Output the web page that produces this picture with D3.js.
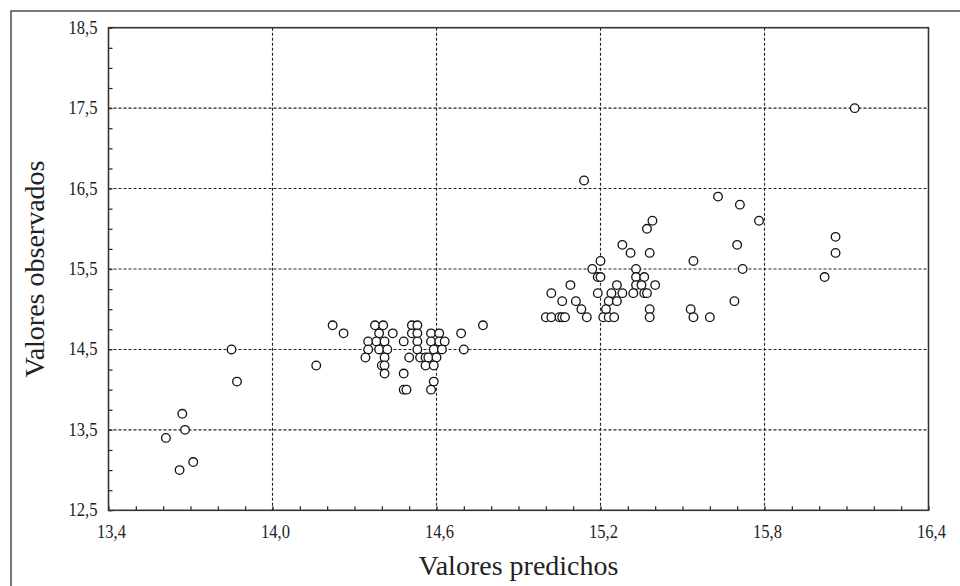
<!DOCTYPE html>
<html>
<head>
<meta charset="utf-8">
<script src="https://cdn.jsdelivr.net/npm/d3@7"></script>
<style>
  body { margin: 0; background: #fff; }
  text { font-family: "Liberation Serif", "DejaVu Serif", serif; fill: #222; }
</style>
</head>
<body>
<div id="graph"></div>
<script>
let predichos = [
  13.61, 13.67, 13.68, 13.66, 13.71, 13.85, 13.87, 14.16, 14.22, 14.26,
  14.375, 14.405, 14.39, 14.44, 14.35, 14.38, 14.41, 14.48, 14.35, 14.39,
  14.42, 14.34, 14.41, 14.40, 14.41, 14.41, 14.48, 14.48, 14.49,
  14.51, 14.53, 14.51, 14.53, 14.53, 14.53, 14.50, 14.54, 14.56, 14.56,
  14.58, 14.61, 14.58, 14.61, 14.63, 14.59, 14.62, 14.57, 14.60, 14.59, 14.59, 14.58,
  14.69, 14.70, 14.77,
  15.14, 15.63, 15.39, 15.37, 15.28, 15.31, 15.38, 15.54, 15.20, 15.17,
  15.33, 15.19, 15.20, 15.33, 15.36, 15.33, 15.35, 15.26, 15.40, 15.09,
  15.02, 15.19, 15.24, 15.28, 15.32, 15.36, 15.37, 15.06, 15.11, 15.23,
  15.26, 15.13, 15.22, 15.38, 15.53, 15.00, 15.02, 15.05, 15.06, 15.07,
  15.15, 15.21, 15.23, 15.25, 15.38, 15.54, 15.60,
  15.71, 15.78, 15.70, 15.72, 15.69, 16.06, 16.06, 16.02, 16.13
];
let observados = [
  13.4, 13.7, 13.5, 13.0, 13.1, 14.5, 14.1, 14.3, 14.8, 14.7,
  14.8, 14.8, 14.7, 14.7, 14.6, 14.6, 14.6, 14.6, 14.5, 14.5,
  14.5, 14.4, 14.4, 14.3, 14.3, 14.2, 14.2, 14.0, 14.0,
  14.8, 14.8, 14.7, 14.7, 14.6, 14.5, 14.4, 14.4, 14.4, 14.3,
  14.7, 14.7, 14.6, 14.6, 14.6, 14.5, 14.5, 14.4, 14.4, 14.3, 14.1, 14.0,
  14.7, 14.5, 14.8,
  16.6, 16.4, 16.1, 16.0, 15.8, 15.7, 15.7, 15.6, 15.6, 15.5,
  15.5, 15.4, 15.4, 15.4, 15.4, 15.3, 15.3, 15.3, 15.3, 15.3,
  15.2, 15.2, 15.2, 15.2, 15.2, 15.2, 15.2, 15.1, 15.1, 15.1,
  15.1, 15.0, 15.0, 15.0, 15.0, 14.9, 14.9, 14.9, 14.9, 14.9,
  14.9, 14.9, 14.9, 14.9, 14.9, 14.9, 14.9,
  16.3, 16.1, 15.8, 15.5, 15.1, 15.9, 15.7, 15.4, 17.5
];
let xTicks = [13.4, 14.0, 14.6, 15.2, 15.8, 16.4];
let yTicks = [12.5, 13.5, 14.5, 15.5, 16.5, 17.5, 18.5];

let data = predichos.map((p, i) => ({ x: p, y: observados[i] }));

let svgWidth = 960, svgHeight = 586;
let margin = { top: 27.7, right: 31.5, bottom: 75.7, left: 108.5 };
let width = svgWidth - margin.left - margin.right;
let height = svgHeight - margin.top - margin.bottom;

let fmt = d => d.toFixed(1).replace(".", ",");

let svg = d3.select("#graph").append("svg")
  .attr("width", svgWidth)
  .attr("height", svgHeight);

// outer frame (only top and left edges visible)
svg.append("rect")
  .attr("x", 11).attr("y", 11)
  .attr("width", 1000).attr("height", 1000)
  .attr("fill", "none").attr("stroke", "#333").attr("stroke-width", 1.3);

let chartGroup = svg.append("g")
  .attr("transform", `translate(${margin.left},${margin.top})`);

let xScale = d3.scaleLinear().domain([13.4, 16.4]).range([0, width]);
let yScale = d3.scaleLinear().domain([12.5, 18.5]).range([height, 0]);

// dotted grid
chartGroup.append("g").selectAll("line")
  .data(xTicks.slice(1, -1))
  .enter().append("line")
  .attr("x1", d => xScale(d)).attr("x2", d => xScale(d))
  .attr("y1", 0).attr("y2", height)
  .attr("stroke", "#222").attr("stroke-width", 1.1)
  .attr("stroke-dasharray", "3,2");
chartGroup.append("g").selectAll("line")
  .data(yTicks.slice(1, -1))
  .enter().append("line")
  .attr("x1", 0).attr("x2", width)
  .attr("y1", d => yScale(d)).attr("y2", d => yScale(d))
  .attr("stroke", "#222").attr("stroke-width", 1.1)
  .attr("stroke-dasharray", "3,2");

// inward minor ticks
let xAxis = d3.axisTop(xScale)
  .tickValues(d3.range(134, 165).map(v => v / 10))
  .tickSize(4).tickFormat("");
chartGroup.append("g")
  .attr("transform", `translate(0,${height})`)
  .call(xAxis)
  .call(g => g.select(".domain").remove())
  .selectAll("line").attr("stroke", "#222").attr("stroke-width", 1.2);

let yAxis = d3.axisRight(yScale)
  .tickValues(d3.range(50, 75).map(v => v / 4))
  .tickSize(4).tickFormat("");
chartGroup.append("g")
  .call(yAxis)
  .call(g => g.select(".domain").remove())
  .selectAll("line").attr("stroke", "#222").attr("stroke-width", 1.2);

// plot frame
chartGroup.append("rect")
  .attr("width", width).attr("height", height)
  .attr("fill", "none").attr("stroke", "#333").attr("stroke-width", 1.6);

// tick labels are a little narrower than the plain font
let squeeze = function (sel, k) {
  sel.each(function () {
    let len = this.getComputedTextLength();
    d3.select(this).attr("textLength", len * k).attr("lengthAdjust", "spacingAndGlyphs");
  });
};

chartGroup.append("g").selectAll("text")
  .data(xTicks)
  .enter().append("text")
  .attr("x", d => xScale(d) + 3)
  .attr("y", height + 28)
  .attr("text-anchor", "middle")
  .style("font-size", "19px")
  .text(fmt)
  .call(squeeze, 0.87);

chartGroup.append("g").selectAll("text")
  .data(yTicks)
  .enter().append("text")
  .attr("x", -11)
  .attr("y", d => yScale(d) + 6)
  .attr("text-anchor", "end")
  .style("font-size", "19px")
  .text(fmt)
  .call(squeeze, 0.87);

// axis titles
svg.append("text")
  .attr("x", margin.left + width / 2)
  .attr("y", 575)
  .attr("text-anchor", "middle")
  .style("font-size", "28px")
  .text("Valores predichos");

svg.append("text")
  .attr("transform", `translate(44,${margin.top + height / 2}) rotate(-90)`)
  .attr("text-anchor", "middle")
  .style("font-size", "28px")
  .text("Valores observados");

// points
chartGroup.append("g").selectAll("circle")
  .data(data)
  .enter().append("circle")
  .attr("cx", d => xScale(d.x))
  .attr("cy", d => yScale(d.y))
  .attr("r", 4.3)
  .attr("fill", "#fff")
  .attr("stroke", "#111")
  .attr("stroke-width", 1.3);
</script>
</body>
</html>
